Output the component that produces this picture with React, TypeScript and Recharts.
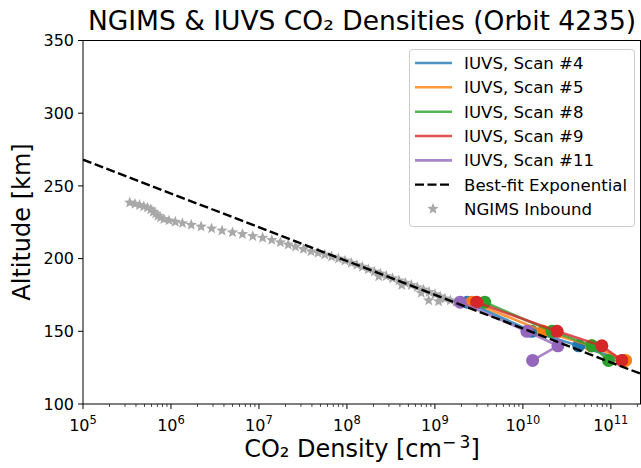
import React from "react";
import { ScatterChart, Scatter, XAxis, YAxis } from "recharts";

// ---------- data ----------
const altitudes = [170, 150, 140, 130];
const scan4 = [2.33e9, 1.26e10, 4.3e10, 1.4e11];
const scan5 = [2.63e9, 1.7e10, 6.0e10, 1.47e11];
const scan8 = [3.68e9, 2.14e10, 6.1e10, 9.4e10];
const scan9 = [2.98e9, 2.45e10, 7.9e10, 1.33e11];
const scan11 = [1.94e9, 1.11e10, 2.5e10, 1.29e10];

const fitDensity = [1e5, 2.2e11];
const fitAltitude = [268, 120.7];

const ngimsDensity = [
  3.4e5, 3.9e5, 4.4e5, 4.9e5, 5.4e5, 5.9e5, 6.3e5, 6.7e5, 7.1e5, 7.6e5, 8.3e5, 9.5e5,
  1.12e6, 1.35e6, 1.7e6, 2.2e6, 2.9e6, 3.8e6, 5.0e6, 6.5e6, 8.5e6,
  1.1e7, 1.4e7, 1.75e7, 2.15e7, 2.6e7, 3.2e7, 3.9e7, 4.7e7, 5.6e7, 6.7e7, 8.0e7, 9.5e7,
  1.12e8, 1.3e8, 1.5e8, 1.75e8, 2.05e8, 2.3e8, 2.4e8, 2.8e8, 3.3e8, 3.9e8, 4.2e8, 4.6e8,
  5.4e8, 6.3e8, 7.0e8, 7.4e8, 8.5e8, 8.6e8, 1.0e9, 1.1e9, 1.15e9, 1.3e9, 1.5e9, 1.75e9,
];
const ngimsAltitude = [
  238.5, 237.6, 236.8, 235.9, 235.0, 233.8, 232.2, 230.9, 229.4, 228.2, 227.1, 226.2,
  225.3, 224.3, 223.2, 222.0, 220.7, 219.3, 218.0, 216.9, 215.4,
  214.3, 212.8, 211.2, 209.6, 208.2, 206.5, 205.0, 203.9, 202.7, 201.4, 200.0, 198.6,
  197.0, 195.6, 194.3, 192.6, 191.0, 187.8, 189.6, 188.0, 186.4, 184.9, 181.8, 183.3,
  181.8, 180.3, 176.4, 178.6, 171.2, 177.0, 175.4, 170.6, 173.8, 172.5, 171.2, 170.3,
];

const yTicks = [100, 150, 200, 250, 300, 350];
const xMajorTicks = [1e5, 1e6, 1e7, 1e8, 1e9, 1e10, 1e11];
const minorMultipliers = [2, 3, 4, 5, 6, 7, 8, 9];

const seriesNames = ["IUVS, Scan #4", "IUVS, Scan #5", "IUVS, Scan #8", "IUVS, Scan #9", "IUVS, Scan #11"];
const seriesColors = ["#1f77b4", "#ff7f0e", "#2ca02c", "#d62728", "#9467bd"];
const seriesValues = [scan4, scan5, scan8, scan9, scan11];

// ---------- derived ----------
const X_DOMAIN: [number, number] = [1e5, 2.2e11];
const xTicks: number[] = [];
xMajorTicks.forEach((m) => {
  xTicks.push(m);
  minorMultipliers.forEach((k) => {
    const v = m * k;
    if (v <= X_DOMAIN[1]) xTicks.push(v);
  });
});
xTicks.sort((a, b) => a - b);

const scans = seriesValues.map((vals) => vals.map((d, i) => ({ x: d, y: altitudes[i] })));
const fitData = fitDensity.map((d, i) => ({ x: d, y: fitAltitude[i] }));
const ngimsData = ngimsDensity.map((d, i) => ({ x: d, y: ngimsAltitude[i] }));

const FONT = "'DejaVu Sans', sans-serif";

const XTick = (props: any) => {
  const { x, y, payload } = props;
  const v = payload.value;
  const lg = Math.log10(v);
  const exp = Math.round(lg);
  const major = Math.abs(lg - exp) < 1e-6;
  return (
    <g>
      <line x1={x} x2={x} y1={y} y2={y + (major ? 5 : 3)} stroke="#000" strokeWidth={major ? 1 : 0.7} />
      {major && (
        <text x={x} y={y + 27} textAnchor="middle" fontSize={16} fill="#000" fontFamily={FONT}>
          10
          <tspan dy={-7} fontSize={11.5}>
            {exp}
          </tspan>
        </text>
      )}
    </g>
  );
};

const YTick = (props: any) => {
  const { x, y, payload } = props;
  return (
    <g>
      <line x1={x - 5} x2={x} y1={y} y2={y} stroke="#000" strokeWidth={1} />
      <text x={x - 9} y={y + 5.8} textAnchor="end" fontSize={16} fill="#000" fontFamily={FONT}>
        {payload.value}
      </text>
    </g>
  );
};

const starPoints = (cx: number, cy: number, R: number, r: number) => {
  const pts: string[] = [];
  for (let i = 0; i < 10; i++) {
    const ang = -Math.PI / 2 + (i * Math.PI) / 5;
    const rad = i % 2 === 0 ? R : r;
    pts.push(`${cx + rad * Math.cos(ang)},${cy + rad * Math.sin(ang)}`);
  }
  return pts.join(" ");
};

const STAR_COLOR = "#a9a9a9";
const StarShape = (p: any) => <polygon points={starPoints(p.cx, p.cy, 6, 2.6)} fill={STAR_COLOR} />;
const makeCircle = (color: string) => (p: any) => <circle cx={p.cx} cy={p.cy} r={6.5} fill={color} />;
const NoShape = () => <g />;

const legendRows = [63, 87.3, 111.7, 136, 160.4, 184.6, 208.8];

export default function App() {
  return (
    <div style={{ position: "absolute", left: 0, top: 0, width: 641, height: 468, background: "#fff", overflow: "hidden" }}>
      <ScatterChart width={641} height={468} margin={{ top: 40.5, right: 0, bottom: 34, left: 23 }}>
        <XAxis
          type="number"
          dataKey="x"
          scale="log"
          domain={X_DOMAIN}
          allowDataOverflow
          ticks={xTicks}
          interval={0}
          tick={<XTick />}
          tickLine={false}
          tickSize={0}
          tickMargin={0}
          height={30}
          axisLine={{ stroke: "#000", strokeWidth: 1 }}
        />
        <YAxis
          type="number"
          dataKey="y"
          domain={[100, 350]}
          allowDataOverflow
          ticks={yTicks}
          interval={0}
          tick={<YTick />}
          tickLine={false}
          tickSize={0}
          tickMargin={0}
          width={60}
          axisLine={{ stroke: "#000", strokeWidth: 1 }}
        />
        <Scatter name="NGIMS Inbound" data={ngimsData} shape={StarShape} isAnimationActive={false} />
        {scans.map((d, i) => (
          <Scatter
            key={seriesNames[i]}
            name={seriesNames[i]}
            data={d}
            fill={seriesColors[i]}
            line={{ stroke: seriesColors[i], strokeWidth: 2.6, strokeOpacity: 0.8 }}
            lineType="joint"
            shape={makeCircle(seriesColors[i])}
            isAnimationActive={false}
          />
        ))}
        <Scatter
          name="Best-fit Exponential"
          data={fitData}
          line={{ stroke: "#000", strokeWidth: 2.4, strokeDasharray: "9 3.5" }}
          lineType="joint"
          shape={NoShape}
          isAnimationActive={false}
        />
      </ScatterChart>
      <svg width={641} height={468} style={{ position: "absolute", left: 0, top: 0, pointerEvents: "none" }} fontFamily={FONT}>
        <line x1={83} x2={641} y1={40.5} y2={40.5} stroke="#000" strokeWidth={1} />
        <line x1={640.5} x2={640.5} y1={40.5} y2={404} stroke="#000" strokeWidth={1} />
        <text x={362} y={30} textAnchor="middle" fontSize={26.5} fill="#000">
          NGIMS &amp; IUVS CO₂ Densities (Orbit 4235)
        </text>
        <text x={362} y={457} textAnchor="middle" fontSize={24} fill="#000">
          CO₂ Density [cm
          <tspan dy={-9} fontSize={17}>
            −{"\u2009"}3
          </tspan>
          <tspan dy={9}>]</tspan>
        </text>
        <text x={30} y={222} textAnchor="middle" fontSize={24} fill="#000" transform="rotate(-90 30 222)">
          Altitude [km]
        </text>
        <rect x={409.5} y={49.5} width={225} height={177} rx={3} fill="#fff" fillOpacity={0.8} stroke="#cccccc" strokeWidth={1} />
        {seriesNames.map((n, i) => (
          <g key={n}>
            <line x1={415} x2={452} y1={legendRows[i]} y2={legendRows[i]} stroke={seriesColors[i]} strokeWidth={2.6} strokeOpacity={0.8} />
            <text x={464} y={legendRows[i] + 6} fontSize={16.6} fill="#000">
              {n}
            </text>
          </g>
        ))}
        <line x1={415} x2={452} y1={legendRows[5]} y2={legendRows[5]} stroke="#000" strokeWidth={2.4} strokeDasharray="9 3.5" />
        <text x={464} y={legendRows[5] + 6} fontSize={16.6} fill="#000">
          Best-fit Exponential
        </text>
        <polygon points={starPoints(433, legendRows[6], 6, 2.6)} fill={STAR_COLOR} />
        <text x={464} y={legendRows[6] + 6} fontSize={16.6} fill="#000">
          NGIMS Inbound
        </text>
      </svg>
    </div>
  );
}
